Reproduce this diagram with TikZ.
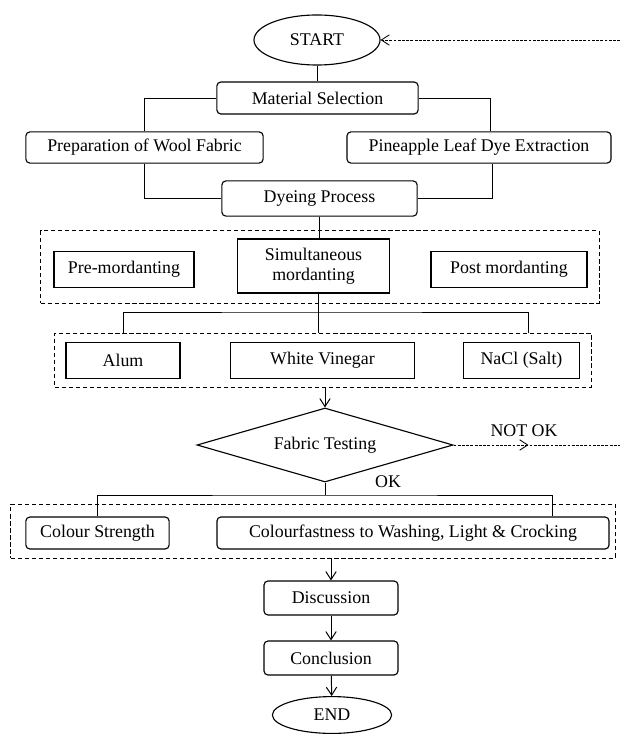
\documentclass[tikz,border=0pt]{standalone}
\usepackage{fontspec}
\setmainfont{Liberation Serif}
\usetikzlibrary{arrows.meta, positioning, calc, shapes.geometric, decorations.markings}

\begin{document}
\begin{tikzpicture}[x=0.025cm, y=-0.025cm,
    font=\fontsize{12.7}{14.5}\selectfont,
    stage/.style={draw, line width=0.8pt, rounded corners=1mm, inner sep=0pt, minimum height=0.8cm},
    plainbox/.style={draw, line width=0.8pt, inner sep=0pt, minimum height=0.88cm},
    oval/.style={draw, ellipse, line width=0.8pt, inner sep=0pt},
    group/.style={draw, dash pattern=on 3pt off 2pt, line width=0.7pt, inner sep=0pt},
    link/.style={line width=0.7pt},
    arr/.style={line width=0.7pt, -{Straight Barb[length=2mm, width=2.6mm]}},
    loopback/.style={line width=0.6pt, dash pattern=on 2pt off 1pt}]
    \useasboundingbox (0,0) rectangle (620,735);
    % Top: start and material selection
    \node[oval, minimum width=3.15cm, minimum height=1.25cm] (start) at (317,40) {START};
    \node[stage, minimum width=5.03cm] (matsel) at (317.5,98) {Material Selection};
    \node[stage, minimum width=5.93cm, minimum height=0.78cm] (prep) at (144.5,147.5) {Preparation of Wool Fabric};
    \node[stage, minimum width=6.6cm, minimum height=0.78cm] (dye) at (479,147.5) {Pineapple Leaf Dye Extraction};
    \node[stage, minimum width=4.88cm, minimum height=0.88cm] (dyeing) at (319.5,198.5) {Dyeing Process};
    \draw[link] (start.south) -- (start.south |- matsel.north);
    \draw[link] (matsel.west) -| (prep.north);
    \draw[link] (matsel.east) -| ($(dye.north)+(11,0)$);
    \draw[link] (prep.south) |- (dyeing.west);
    \draw[link] ($(dye.south)+(13,0)$) |- (dyeing.east);
    % Mordanting methods
    \node[group, minimum width=13.95cm, minimum height=1.8cm] (grp1) at (320,267) {};
    \node[plainbox, minimum width=3.5cm] (premord) at (124,269.5) {Pre-mordanting};
    \node[plainbox, minimum width=3.78cm, minimum height=1.35cm, align=center] (simult) at (313.5,266) {Simultaneous\\mordanting};
    \node[plainbox, minimum width=3.9cm] (postmord) at (509,269.5) {Post mordanting};
    \draw[link] (dyeing.south) -- (dyeing.south |- simult.north);
    % Mordants
    \node[group, minimum width=13.4cm, minimum height=1.35cm] (grp2) at (323,360) {};
    \node[plainbox, minimum width=2.85cm] (alum) at (123,360.5) {Alum};
    \node[plainbox, minimum width=4.58cm] (vinegar) at (322.5,360.5) {White Vinegar};
    \node[plainbox, minimum width=2.88cm] (nacl) at (521.5,360.5) {NaCl (Salt)};
    \coordinate (fork1) at (318,312);
    \draw[link] (fork1 |- simult.south) -- (fork1 |- grp2.north);
    \draw[link] (alum.north |- grp2.north) |- (fork1) -| ($(nacl.north |- grp2.north)+(6.5,0)$);
    % Testing
    \node[draw, diamond, aspect=3.46, line width=0.8pt, inner sep=0pt, minimum width=6.4cm, minimum height=1.85cm] (test) at (325,445) {Fabric Testing};
    \draw[arr] (test.north |- grp2.south) -- (test.north);
    \coordinate (loop1) at (620,445);
    \coordinate (loop2) at (620,40);
    \draw[loopback, postaction={decorate},
        decoration={markings, mark=at position 0.45 with {\arrow{Straight Barb[length=2mm, width=2.6mm]}}}]
        (test.east) -- (loop1);
    \draw[loopback, -{Straight Barb[length=2mm, width=2.6mm]}] (loop2) -- (start.east);
    \node (notok) at (524,431) {NOT OK};
    \node (ok) at (388,482) {OK};
    % Results
    \node[group, minimum width=15.1cm, minimum height=1.35cm] (grp3) at (313,531) {};
    \node[stage, minimum width=3.58cm] (strength) at (97.5,533) {Colour Strength};
    \node[stage, minimum width=9.8cm] (fastness) at (413,533) {Colourfastness to Washing, Light \& Crocking};
    \coordinate (fork2) at (325,495);
    \draw[link] (test.south) -- (fork2);
    \draw[link] (strength.north) |- (fork2) -| ($(fastness.north)+(139,0)$);
    % End
    \node[stage, minimum width=3.35cm, minimum height=0.85cm] (discuss) at (331,598) {Discussion};
    \node[stage, minimum width=3.35cm, minimum height=0.85cm] (concl) at (331,658) {Conclusion};
    \node[oval, minimum width=2.98cm, minimum height=0.92cm] (finish) at (332,715) {END};
    \draw[arr] (discuss.north |- grp3.south) -- (discuss.north);
    \draw[arr] (discuss) -- (concl);
    \draw[arr] (concl) -- (finish);
\end{tikzpicture}
\end{document}
